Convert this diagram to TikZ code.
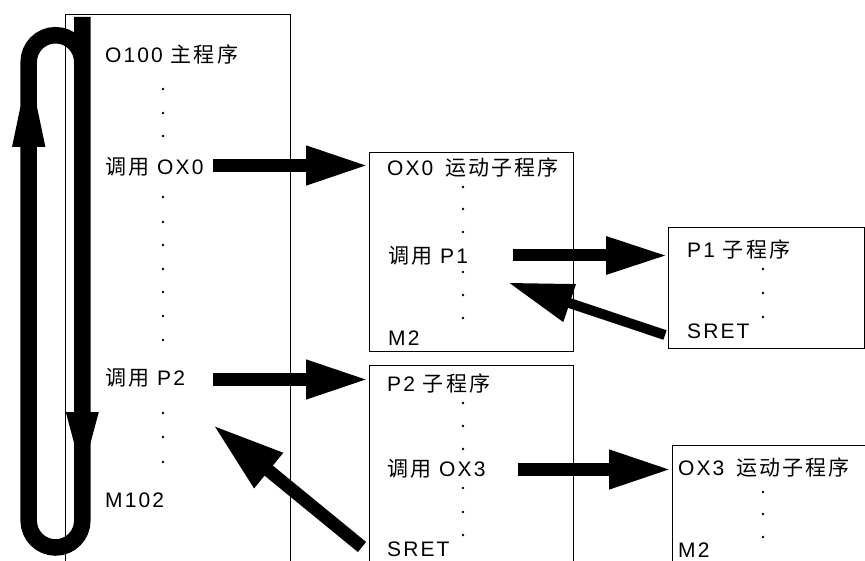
\documentclass[tikz,border=0pt]{standalone}
\usepackage{fontspec}
\setmainfont[LetterSpace=10]{Liberation Sans}
\newfontfamily\cjk[LetterSpace=10]{Noto Sans CJK SC}
\usetikzlibrary{arrows.meta}
\begin{document}
\begin{tikzpicture}[x=1pt,y=-1pt,
  box/.style={draw, line width=1.4pt, inner sep=0pt, anchor=north west},
  lbl/.style={anchor=west, inner sep=0pt, font=\fontsize{21pt}{25pt}\selectfont},
  fat/.style={line width=13pt, -{Triangle[length=63pt,width=36pt]}},
  dot/.style={fill=black}]
\useasboundingbox (0,0) rectangle (865,561);
\clip (0,0) rectangle (865,561);
% boxes
\node[box, minimum width=225pt, minimum height=600pt] (main) at (65,14) {};
\node[box, minimum width=204pt, minimum height=199pt] (ox0) at (369,152) {};
\node[box, minimum width=196pt, minimum height=121pt] (p1) at (668,227) {};
\node[box, minimum width=204pt, minimum height=300pt] (p2) at (369,365) {};
\node[box, minimum width=300pt, minimum height=200pt] (ox3) at (672,445) {};
% texts
\node[lbl] (mainT) at (105,55) {O100 {\cjk 主程序}};
\node[lbl] (callOX0) at (105,167) {{\cjk 调用} OX0};
\node[lbl] (callP2) at (105,378) {{\cjk 调用} P2};
\node[lbl] (m102) at (105,500) {M102};
\node[lbl] (ox0T) at (387,168) {OX0\hspace{12pt}{\cjk 运动子程序}};
\node[lbl] (callP1) at (388,256) {{\cjk 调用} P1};
\node[lbl] (m2a) at (388,338) {M2};
\node[lbl] (p1T) at (687,250) {P1 {\cjk 子程序}};
\node[lbl] (sret1) at (687,331) {SRET};
\node[lbl] (p2T) at (387,383) {P2 {\cjk 子程序}};
\node[lbl] (callOX3) at (387,469) {{\cjk 调用} OX3};
\node[lbl] (sret2) at (387,549) {SRET};
\node[lbl] (ox3T) at (678,468) {OX3\hspace{12pt}{\cjk 运动子程序}};
\node[lbl] (m2b) at (678,550) {M2};
% dots
\foreach \y in {89,113,136,197,222,245,269,292,316,340,413,437,462}
  \fill[dot] (163,\y) circle (1.3pt);
\foreach \y in {187,209,232,272,295,318,403,426,449,488,512,535}
  \fill[dot] (463,\y) circle (1.3pt);
\foreach \y in {269,293,317,492,514,537}
  \fill[dot] (763,\y) circle (1.3pt);
% loop
\draw[line width=16.5pt] (82.3,17) -- (82.3,520.7)
  .. controls (82.3,535.5) and (70.3,547.5) .. (55.5,547.5)
  .. controls (40.7,547.5) and (28.7,535.5) .. (28.7,520.7)
  -- (28.7,62)
  .. controls (28.7,47.2) and (40.7,35.2) .. (55.5,35.2)
  .. controls (70.3,35.2) and (82.3,47.2) .. (82.3,62);
\fill (12,147) -- (45.4,147) -- (37,107) -- (20.4,107) -- cycle;
\fill (65.8,412) -- (98.8,412) -- (90.5,443) -- (74.1,443) -- cycle;
% call arrows
\coordinate (t1) at (213,165.5);
\coordinate (t2) at (513,255.5);
\coordinate (t3) at (213,379.5);
\coordinate (t4) at (518,469.5);
\draw[fat] (t1) -- (ox0.west |- t1);
\draw[fat, line width=12pt, -{Triangle[length=62pt,width=35pt]}] (t2) -- (p1.west |- t2);
\draw[fat] (t3) -- (p2.west |- t3);
\draw[fat] (t4) -- (ox3.west |- t4);
% return arrows
\coordinate (r1s) at (665,335);
\coordinate (r1e) at (508,282.5);
\coordinate (r2s) at (362,547);
\coordinate (r2e) at (213,425);
\draw[line width=10pt, -{Triangle[length=65pt,width=37pt]}] (r1s) -- (r1e);
\draw[line width=13pt, -{Triangle[length=72pt,width=42pt]}] (r2s) -- (r2e);
\end{tikzpicture}
\end{document}
